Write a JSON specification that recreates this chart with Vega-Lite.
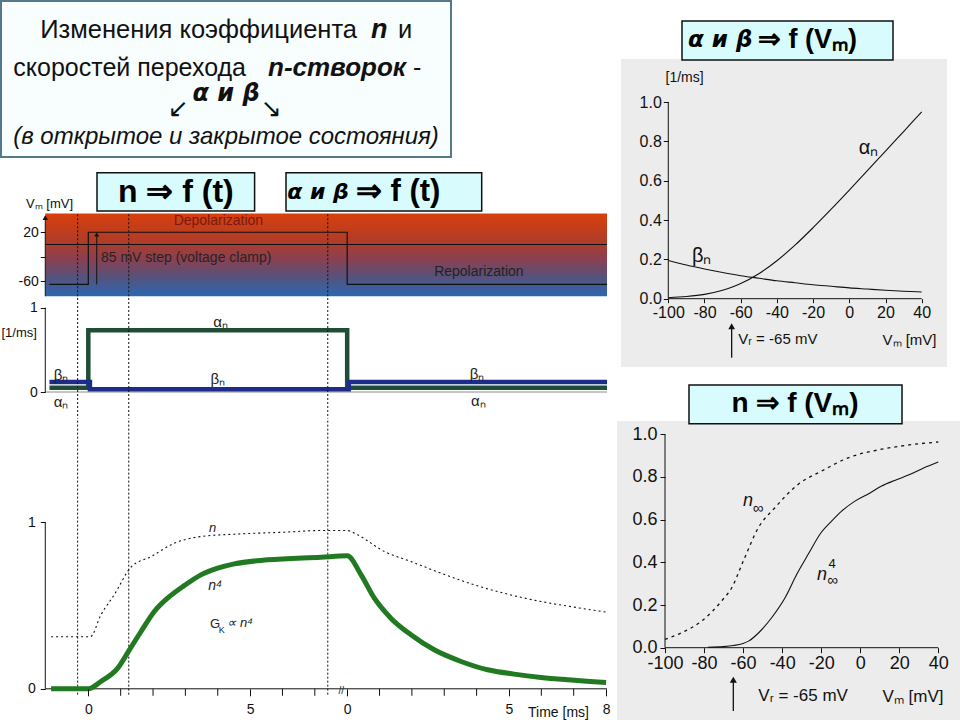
{
  "$schema": "https://vega.github.io/schema/vega-lite/v6.json",
  "background": "white",
  "padding": 0,
  "autosize": {"type": "pad"},
  "spacing": -13,
  "config": {
    "view": {"stroke": null},
    "axis": {"grid": false, "labelOverlap": false, "labelColor": "#111", "tickColor": "#111", "titleColor": "#111", "titleFontWeight": "normal", "labelFont": "Liberation Sans Narrow, Liberation Sans", "titleFont": "Liberation Sans Narrow, Liberation Sans"}
  },
  "datasets": {
    "one": [{}],
    "vlines": [{"t": -0.33}, {"t": 1.25}, {"t": 7.4}],
    "minor_ticks": [{"t": 1}, {"t": 2}, {"t": 3}, {"t": 4}, {"t": 6}, {"t": 7}, {"t": 9}, {"t": 10}, {"t": 11}, {"t": 12}, {"t": 14}, {"t": 15}],
    "vm_step": [
      {"i": 0, "t": -1.2, "vm": -65}, {"i": 1, "t": 0, "vm": -65}, {"i": 2, "t": 0, "vm": 20},
      {"i": 3, "t": 8, "vm": 20}, {"i": 4, "t": 8, "vm": -65}, {"i": 5, "t": 16.03, "vm": -65}
    ],
    "rate_step": [
      {"i": 0, "series": "alpha", "t": -1.2, "rate": 0.051}, {"i": 1, "series": "alpha", "t": 0, "rate": 0.051},
      {"i": 2, "series": "alpha", "t": 0, "rate": 0.732}, {"i": 3, "series": "alpha", "t": 8, "rate": 0.732},
      {"i": 4, "series": "alpha", "t": 8, "rate": 0.051}, {"i": 5, "series": "alpha", "t": 16.03, "rate": 0.051},
      {"i": 0, "series": "beta", "t": -1.2, "rate": 0.119}, {"i": 1, "series": "beta", "t": 0.05, "rate": 0.119},
      {"i": 2, "series": "beta", "t": 0.05, "rate": 0.032}, {"i": 3, "series": "beta", "t": 8.05, "rate": 0.032},
      {"i": 4, "series": "beta", "t": 8.05, "rate": 0.119}, {"i": 5, "series": "beta", "t": 16.03, "rate": 0.119}
    ],
    "n_t": [
      {"t": -1.15, "n": 0.312}, {"t": 0.06, "n": 0.312}, {"t": 0.39, "n": 0.444}, {"t": 0.8, "n": 0.564},
      {"t": 1.32, "n": 0.73}, {"t": 1.94, "n": 0.794}, {"t": 2.66, "n": 0.874}, {"t": 3.48, "n": 0.914},
      {"t": 4.51, "n": 0.928}, {"t": 6.06, "n": 0.94}, {"t": 7.19, "n": 0.95}, {"t": 8.0, "n": 0.95},
      {"t": 8.32, "n": 0.924}, {"t": 9.15, "n": 0.824}, {"t": 9.97, "n": 0.764}, {"t": 10.9, "n": 0.694},
      {"t": 11.93, "n": 0.624}, {"t": 12.96, "n": 0.568}, {"t": 13.99, "n": 0.524}, {"t": 15.02, "n": 0.49},
      {"t": 16.0, "n": 0.46}
    ],
    "n4_t": [
      {"t": -1.15, "n4": 0}, {"t": 0, "n4": 0}, {"t": 0.39, "n4": 0.044}, {"t": 0.91, "n4": 0.124},
      {"t": 1.27, "n4": 0.234}, {"t": 1.63, "n4": 0.344}, {"t": 2.04, "n4": 0.464}, {"t": 2.45, "n4": 0.544},
      {"t": 2.97, "n4": 0.62}, {"t": 3.48, "n4": 0.684}, {"t": 4.0, "n4": 0.724}, {"t": 4.51, "n4": 0.75},
      {"t": 5.54, "n4": 0.774}, {"t": 7.19, "n4": 0.79}, {"t": 8.0, "n4": 0.798}, {"t": 8.43, "n4": 0.684},
      {"t": 8.84, "n4": 0.544}, {"t": 9.35, "n4": 0.424}, {"t": 9.97, "n4": 0.324}, {"t": 10.69, "n4": 0.234},
      {"t": 11.52, "n4": 0.164}, {"t": 12.34, "n4": 0.114}, {"t": 13.16, "n4": 0.088}, {"t": 13.99, "n4": 0.068},
      {"t": 14.81, "n4": 0.054}, {"t": 16.0, "n4": 0.038}
    ],
    "rate_v": [
      {"series": "alpha", "v": -100, "rate": 0.005}, {"series": "alpha", "v": -90, "rate": 0.011},
      {"series": "alpha", "v": -80, "rate": 0.022}, {"series": "alpha", "v": -70, "rate": 0.043},
      {"series": "alpha", "v": -65, "rate": 0.058}, {"series": "alpha", "v": -60, "rate": 0.077},
      {"series": "alpha", "v": -50, "rate": 0.127}, {"series": "alpha", "v": -40, "rate": 0.193},
      {"series": "alpha", "v": -30, "rate": 0.272}, {"series": "alpha", "v": -20, "rate": 0.361},
      {"series": "alpha", "v": -10, "rate": 0.455}, {"series": "alpha", "v": 0, "rate": 0.552},
      {"series": "alpha", "v": 10, "rate": 0.651}, {"series": "alpha", "v": 20, "rate": 0.75},
      {"series": "alpha", "v": 30, "rate": 0.85}, {"series": "alpha", "v": 40, "rate": 0.95},
      {"series": "beta", "v": -100, "rate": 0.194}, {"series": "beta", "v": -90, "rate": 0.171},
      {"series": "beta", "v": -80, "rate": 0.151}, {"series": "beta", "v": -70, "rate": 0.133},
      {"series": "beta", "v": -60, "rate": 0.117}, {"series": "beta", "v": -50, "rate": 0.104},
      {"series": "beta", "v": -40, "rate": 0.091}, {"series": "beta", "v": -30, "rate": 0.081},
      {"series": "beta", "v": -20, "rate": 0.071}, {"series": "beta", "v": -10, "rate": 0.063},
      {"series": "beta", "v": 0, "rate": 0.055}, {"series": "beta", "v": 10, "rate": 0.049},
      {"series": "beta", "v": 20, "rate": 0.043}, {"series": "beta", "v": 30, "rate": 0.038},
      {"series": "beta", "v": 40, "rate": 0.034}
    ],
    "ninf_v": [
      {"v": -100, "n": 0.039}, {"v": -91.5, "n": 0.07}, {"v": -81.2, "n": 0.125}, {"v": -71, "n": 0.219},
      {"v": -65.8, "n": 0.281}, {"v": -59.9, "n": 0.406}, {"v": -52.2, "n": 0.562}, {"v": -43.7, "n": 0.656},
      {"v": -31.7, "n": 0.766}, {"v": -19.7, "n": 0.828}, {"v": -6.1, "n": 0.89}, {"v": 11, "n": 0.93},
      {"v": 25, "n": 0.95}, {"v": 40, "n": 0.964}
    ],
    "ninf4_v": [
      {"v": -78, "n4": 0.002}, {"v": -70, "n4": 0.005}, {"v": -65, "n4": 0.01}, {"v": -60, "n4": 0.02},
      {"v": -57, "n4": 0.032}, {"v": -52, "n4": 0.07}, {"v": -45, "n4": 0.145}, {"v": -38.5, "n4": 0.234},
      {"v": -32.5, "n4": 0.344}, {"v": -26.5, "n4": 0.44}, {"v": -20, "n4": 0.54}, {"v": -15, "n4": 0.59},
      {"v": -9.5, "n4": 0.64}, {"v": -2.7, "n4": 0.687}, {"v": 5, "n4": 0.725}, {"v": 11, "n4": 0.758},
      {"v": 18, "n4": 0.785}, {"v": 25, "n4": 0.81}, {"v": 32, "n4": 0.84}, {"v": 40, "n4": 0.87}
    ]
  },
  "hconcat": [
    {
      "spacing": 0,
      "vconcat": [
        {
          "spacing": 15.7,
          "bounds": "flush",
          "vconcat": [
            {
              "width": 450, "height": 156,
              "view": {"fill": "#f8fdfe", "stroke": "#55798a", "strokeWidth": 2},
              "data": {"name": "one"},
              "layer": [
                {"mark": {"type": "text", "text": "Изменения коэффициента", "align": "right", "baseline": "alphabetic", "dx": 131, "dy": -41.3, "fontSize": 25.5, "font": "Liberation Sans", "color": "#111"}, "encoding": {}},
                {"mark": {"type": "text", "text": "n", "align": "left", "baseline": "alphabetic", "dx": 145, "dy": -41.3, "fontSize": 27, "font": "Liberation Sans", "fontWeight": "bold", "fontStyle": "italic", "color": "#111"}, "encoding": {}},
                {"mark": {"type": "text", "text": "и", "align": "left", "baseline": "alphabetic", "dx": 172, "dy": -41.3, "fontSize": 25.5, "font": "Liberation Sans", "color": "#111"}, "encoding": {}},
                {"mark": {"type": "text", "text": "скоростей перехода", "align": "right", "baseline": "alphabetic", "dx": 20, "dy": -3, "fontSize": 25, "font": "Liberation Sans", "color": "#111"}, "encoding": {}},
                {"mark": {"type": "text", "text": "n-створок", "align": "left", "baseline": "alphabetic", "dx": 42, "dy": -3, "fontSize": 26, "font": "Liberation Sans", "fontWeight": "bold", "fontStyle": "italic", "color": "#111"}, "encoding": {}},
                {"mark": {"type": "text", "text": "-", "align": "left", "baseline": "alphabetic", "dx": 187, "dy": -3, "fontSize": 25, "font": "Liberation Sans", "color": "#111"}, "encoding": {}},
                {"mark": {"type": "text", "text": "α и β", "align": "center", "baseline": "alphabetic", "dy": 22, "fontSize": 24, "font": "DejaVu Sans", "fontWeight": "bold", "fontStyle": "italic", "color": "#111"}, "encoding": {}},
                {"mark": {"type": "text", "text": "↙", "align": "center", "baseline": "middle", "dx": -48, "dy": 30, "fontSize": 25, "font": "DejaVu Sans", "color": "#111"}, "encoding": {}},
                {"mark": {"type": "text", "text": "↘", "align": "center", "baseline": "middle", "dx": 45, "dy": 30, "fontSize": 25, "font": "DejaVu Sans", "color": "#111"}, "encoding": {}},
                {"mark": {"type": "text", "text": "(в открытое и закрытое состояния)", "align": "center", "baseline": "alphabetic", "dy": 65, "fontSize": 24, "font": "Liberation Sans", "fontStyle": "italic", "color": "#111"}, "encoding": {}}
              ]
            },
            {
              "spacing": 31,
              "bounds": "flush",
              "hconcat": [
                {
                  "width": 64.7, "height": 38.3,
                  "data": {"name": "one"},
                  "mark": {"type": "text", "text": "Vₘ [mV]", "align": "left", "baseline": "alphabetic", "dx": -7.35, "dy": 16, "fontSize": 13, "font": "Liberation Sans Narrow, Liberation Sans", "color": "#111"},
                  "encoding": {}
                },
                {
                  "width": 157.6, "height": 38.3,
                  "view": {"fill": "#d8fcfd", "stroke": "#111", "strokeWidth": 1.5},
                  "data": {"name": "one"},
                  "mark": {"type": "text", "text": "n ⇒ f (t)", "align": "center", "baseline": "middle", "fontSize": 32, "font": "Liberation Sans", "fontWeight": "bold", "color": "#000"},
                  "encoding": {}
                },
                {
                  "width": 195.7, "height": 38.3,
                  "view": {"fill": "#d8fcfd", "stroke": "#111", "strokeWidth": 1.5},
                  "data": {"name": "one"},
                  "layer": [
                    {"mark": {"type": "text", "text": "α и β", "align": "right", "baseline": "middle", "dx": -35, "fontSize": 22, "font": "DejaVu Sans", "fontWeight": "bold", "fontStyle": "italic", "color": "#000"}, "encoding": {}},
                    {"mark": {"type": "text", "text": "⇒ f (t)", "align": "left", "baseline": "middle", "dx": -28, "fontSize": 31, "font": "Liberation Sans", "fontWeight": "bold", "color": "#000"}, "encoding": {}}
                  ]
                }
              ]
            }
          ]
        },
        {
          "width": 607, "height": 84.25,
          "layer": [
            {
              "data": {"name": "one"},
              "mark": {"type": "rect", "color": {"gradient": "linear", "x1": 0, "y1": 0, "x2": 0, "y2": 1, "stops": [{"offset": 0, "color": "#d8400c"}, {"offset": 0.33, "color": "#b03c28"}, {"offset": 0.55, "color": "#8a4050"}, {"offset": 0.75, "color": "#5a5078"}, {"offset": 1, "color": "#2a68b0"}]}},
              "encoding": {
                "x": {"datum": -1.33, "type": "quantitative", "scale": {"domain": [-2.698, 16.06], "nice": false, "zero": false}, "axis": null},
                "x2": {"datum": 16.03},
                "y": {"datum": -84.5, "type": "quantitative", "scale": {"domain": [-84.5, 53.06], "nice": false, "zero": false},
                  "axis": {"orient": "left", "offset": -44.3, "values": [20, 0, -20, -40, -60], "labelOverlap": false, "labelExpr": "datum.value == 20 ? '20' : (datum.value == -60 ? '-60' : '')", "tickSize": 5, "labelFontSize": 14, "labelPadding": 2, "domain": false, "title": null, "zindex": 1}},
                "y2": {"datum": 50.5}
              }
            },
            {"data": {"name": "one"}, "mark": {"type": "rule", "color": "#111", "strokeWidth": 1},
             "encoding": {"x": {"datum": -1.33, "axis": null}, "y": {"datum": -84.5}, "y2": {"datum": 44}}},
            {"data": {"name": "one"}, "mark": {"type": "point", "shape": "triangle-up", "filled": true, "size": 30, "color": "#111", "opacity": 1},
             "encoding": {"x": {"datum": -1.33, "axis": null}, "y": {"datum": 44}}},
            {"data": {"name": "one"}, "mark": {"type": "rule", "color": "#111", "strokeWidth": 1},
             "encoding": {"x": {"datum": -1.33, "axis": null}, "x2": {"datum": 16.03}, "y": {"datum": 0}}},
            {"data": {"name": "vm_step"}, "mark": {"type": "line", "color": "#111", "strokeWidth": 1.2},
             "encoding": {"x": {"field": "t", "type": "quantitative", "axis": null}, "y": {"field": "vm", "type": "quantitative"}, "order": {"field": "i"}}},
            {"data": {"name": "one"}, "mark": {"type": "rule", "color": "#111", "strokeWidth": 1},
             "encoding": {"x": {"datum": 0.26, "axis": null}, "y": {"datum": -65}, "y2": {"datum": 15}}},
            {"data": {"name": "one"}, "mark": {"type": "point", "shape": "triangle-up", "filled": true, "size": 25, "color": "#111", "opacity": 1},
             "encoding": {"x": {"datum": 0.26, "axis": null}, "y": {"datum": 16.5}}},
            {"data": {"name": "vlines"}, "mark": {"type": "rule", "color": "#111", "strokeWidth": 1, "strokeDash": [2, 2]},
             "encoding": {"x": {"field": "t", "type": "quantitative", "axis": null}, "y": {"datum": -84.5}, "y2": {"datum": 50.5}}},
            {"data": {"name": "one"}, "mark": {"type": "text", "text": "Depolarization", "align": "center", "baseline": "middle", "fontSize": 14, "font": "Liberation Sans Narrow, Liberation Sans", "color": "#7a1a10"},
             "encoding": {"x": {"datum": 4.02, "axis": null}, "y": {"datum": 38}}},
            {"data": {"name": "one"}, "mark": {"type": "text", "text": "85 mV step (voltage clamp)", "align": "left", "baseline": "middle", "fontSize": 14, "font": "Liberation Sans Narrow, Liberation Sans", "color": "#2a2222"},
             "encoding": {"x": {"datum": 0.39, "axis": null}, "y": {"datum": -22}}},
            {"data": {"name": "one"}, "mark": {"type": "text", "text": "Repolarization", "align": "center", "baseline": "middle", "fontSize": 14, "font": "Liberation Sans Narrow, Liberation Sans", "color": "#222"},
             "encoding": {"x": {"datum": 12.07, "axis": null}, "y": {"datum": -45.3}}}
          ]
        },
        {
          "width": 607, "height": 118,
          "layer": [
            {
              "data": {"name": "one"},
              "mark": {"type": "rule", "color": "#8a8a8a", "strokeWidth": 1},
              "encoding": {
                "x": {"datum": -1.33, "type": "quantitative", "scale": {"domain": [-2.698, 16.06], "nice": false, "zero": false}, "axis": null},
                "x2": {"datum": 16.03},
                "y": {"datum": 0, "type": "quantitative", "scale": {"domain": [-0.2847, 1.1151], "nice": false, "zero": false},
                  "axis": {"orient": "left", "offset": -44.3, "values": [0, 1], "format": "d", "tickSize": 5, "labelFontSize": 14, "labelPadding": 3, "domain": false, "title": "[1/ms]", "titleAngle": 0, "titleAlign": "left", "titleBaseline": "middle", "titleX": -44.3, "titleY": 34.7, "titleFontSize": 13, "zindex": 1}}
              }
            },
            {"data": {"name": "one"}, "mark": {"type": "rule", "color": "#111", "strokeWidth": 1},
             "encoding": {"x": {"datum": -1.33, "axis": null}, "y": {"datum": 0}, "y2": {"datum": 1}}},
            {"data": {"name": "rate_step"}, "mark": {"type": "line", "strokeWidth": 4.5, "strokeJoin": "miter"},
             "encoding": {"x": {"field": "t", "type": "quantitative", "axis": null}, "y": {"field": "rate", "type": "quantitative"}, "order": {"field": "i"},
               "color": {"field": "series", "type": "nominal", "scale": {"domain": ["alpha", "beta"], "range": ["#1f4d36", "#1d2b8a"]}, "legend": null}}},
            {"data": {"name": "vlines"}, "mark": {"type": "rule", "color": "#111", "strokeWidth": 1, "strokeDash": [2, 2]},
             "encoding": {"x": {"field": "t", "type": "quantitative", "axis": null}}},
            {"data": {"name": "one"}, "mark": {"type": "text", "text": "βₙ", "align": "center", "baseline": "middle", "fontSize": 15, "font": "Liberation Sans", "color": "#222"},
             "encoding": {"x": {"datum": -0.84, "axis": null}, "y": {"datum": 0.2}}},
            {"data": {"name": "one"}, "mark": {"type": "text", "text": "αₙ", "align": "center", "baseline": "middle", "fontSize": 15, "font": "Liberation Sans", "color": "#222"},
             "encoding": {"x": {"datum": -0.84, "axis": null}, "y": {"datum": -0.1186}}},
            {"data": {"name": "one"}, "mark": {"type": "text", "text": "αₙ", "align": "center", "baseline": "middle", "fontSize": 15, "font": "Liberation Sans", "color": "#222"},
             "encoding": {"x": {"datum": 4.09, "axis": null}, "y": {"datum": 0.83}}},
            {"data": {"name": "one"}, "mark": {"type": "text", "text": "βₙ", "align": "center", "baseline": "middle", "fontSize": 15, "font": "Liberation Sans", "color": "#222"},
             "encoding": {"x": {"datum": 4.0, "axis": null}, "y": {"datum": 0.154}}},
            {"data": {"name": "one"}, "mark": {"type": "text", "text": "βₙ", "align": "center", "baseline": "middle", "fontSize": 15, "font": "Liberation Sans", "color": "#222"},
             "encoding": {"x": {"datum": 12.01, "axis": null}, "y": {"datum": 0.21}}},
            {"data": {"name": "one"}, "mark": {"type": "text", "text": "αₙ", "align": "center", "baseline": "middle", "fontSize": 15, "font": "Liberation Sans", "color": "#222"},
             "encoding": {"x": {"datum": 12.05, "axis": null}, "y": {"datum": -0.107}}}
          ]
        },
        {
          "width": 607, "height": 303.5,
          "layer": [
            {
              "data": {"name": "one"},
              "mark": {"type": "rule", "color": "#111", "strokeWidth": 1},
              "encoding": {
                "x": {"datum": -1.33, "type": "quantitative", "scale": {"domain": [-2.698, 16.06], "nice": false, "zero": false},
                  "axis": {"orient": "bottom", "offset": -32.7, "values": [0, 5, 8, 13, 16], "labelOverlap": false, "labelBound": false, "labelExpr": "datum.value == 0 || datum.value == 8 ? '0' : (datum.value == 5 || datum.value == 13 ? '5' : '8')", "tickSize": 7, "labelFontSize": 14, "labelPadding": 7, "domain": false, "title": "Time [ms]", "titleX": 557, "titleY": 24, "titleAlign": "center", "titleBaseline": "middle", "titleFontSize": 14, "zindex": 1}},
                "x2": {"datum": 16.03},
                "y": {"datum": 0, "type": "quantitative", "scale": {"domain": [-0.1963, 1.6255], "nice": false, "zero": false},
                  "axis": {"orient": "left", "offset": -44.3, "values": [0, 1], "format": "d", "tickSize": 5, "labelFontSize": 14, "labelPadding": 5, "domain": false, "title": null, "zindex": 1}}
              }
            },
            {"data": {"name": "minor_ticks"}, "mark": {"type": "rule", "color": "#111", "strokeWidth": 1},
             "encoding": {"x": {"field": "t", "type": "quantitative"}, "y": {"datum": 0}, "y2": {"datum": -0.042}}},
            {"data": {"name": "one"}, "mark": {"type": "rule", "color": "#111", "strokeWidth": 1},
             "encoding": {"x": {"datum": -1.33}, "y": {"datum": 0}, "y2": {"datum": 1}}},
            {"data": {"name": "vlines"}, "mark": {"type": "rule", "color": "#111", "strokeWidth": 1, "strokeDash": [2, 2]},
             "encoding": {"x": {"field": "t", "type": "quantitative"}, "y": {"datum": -0.035}, "y2": {"datum": 1.6255}}},
            {"data": {"name": "n_t"}, "mark": {"type": "line", "color": "#111", "strokeWidth": 1.1, "strokeDash": [2, 3], "interpolate": "monotone"},
             "encoding": {"x": {"field": "t", "type": "quantitative"}, "y": {"field": "n", "type": "quantitative"}}},
            {"data": {"name": "n4_t"}, "mark": {"type": "line", "color": "#217a21", "strokeWidth": 5, "interpolate": "monotone"},
             "encoding": {"x": {"field": "t", "type": "quantitative"}, "y": {"field": "n4", "type": "quantitative"}}},
            {"data": {"name": "one"}, "mark": {"type": "text", "text": "//", "align": "center", "baseline": "middle", "fontSize": 10, "font": "Liberation Sans", "color": "#222"},
             "encoding": {"x": {"datum": 7.82}, "y": {"datum": -0.015}}},
            {"data": {"name": "one"}, "mark": {"type": "text", "text": "n", "align": "center", "baseline": "middle", "fontSize": 13, "font": "Liberation Sans", "fontStyle": "italic", "color": "#222"},
             "encoding": {"x": {"datum": 3.84}, "y": {"datum": 0.968}}},
            {"data": {"name": "one"}, "mark": {"type": "text", "text": "n⁴", "align": "center", "baseline": "middle", "fontSize": 14, "font": "Liberation Sans", "fontStyle": "italic", "color": "#222"},
             "encoding": {"x": {"datum": 3.92}, "y": {"datum": 0.62}}},
            {"data": {"name": "one"}, "mark": {"type": "text", "text": "G", "align": "left", "baseline": "middle", "fontSize": 13, "font": "Liberation Sans", "color": "#222"},
             "encoding": {"x": {"datum": 3.76}, "y": {"datum": 0.389}}},
            {"data": {"name": "one"}, "mark": {"type": "text", "text": "K", "align": "left", "baseline": "middle", "fontSize": 9, "font": "Liberation Sans", "color": "#222"},
             "encoding": {"x": {"datum": 4.03}, "y": {"datum": 0.35}}},
            {"data": {"name": "one"}, "mark": {"type": "text", "text": "∝ n⁴", "align": "left", "baseline": "middle", "fontSize": 13, "font": "Liberation Sans", "fontStyle": "italic", "color": "#222"},
             "encoding": {"x": {"datum": 4.3}, "y": {"datum": 0.395}}}
          ]
        }
      ]
    },
    {
      "spacing": 0,
      "bounds": "flush",
      "vconcat": [
        {
          "width": 348, "height": 383,
          "layer": [
            {
              "data": {"name": "one"},
              "mark": {"type": "rect", "color": "#ececec"},
              "encoding": {
                "x": {"datum": -126.13, "type": "quantitative", "scale": {"domain": [-128.34, 63.92], "nice": false, "zero": false},
                  "axis": {"orient": "bottom", "offset": -85.3, "values": [-100, -80, -60, -40, -20, 0, 20, 40], "labelExpr": "replace(datum.label, '−', '-')", "tickSize": 4, "labelFontSize": 16, "labelPadding": 2, "labelFont": "Liberation Sans", "domain": false, "title": "Vₘ [mV]", "titleFont": "Liberation Sans", "titleX": 265, "titleY": 40.3, "titleAlign": "left", "titleBaseline": "middle", "titleFontSize": 15, "zindex": 1}},
                "x2": {"datum": 53.98},
                "y": {"datum": -0.3472, "type": "quantitative", "scale": {"domain": [-0.4337, 1.5135], "nice": false, "zero": false},
                  "axis": {"orient": "left", "offset": -51.3, "values": [0, 0.2, 0.4, 0.6, 0.8, 1], "format": ".1f", "tickSize": 5, "labelFontSize": 16, "labelPadding": 2, "labelFont": "Liberation Sans", "domain": false, "title": "[1/ms]", "titleFont": "Liberation Sans", "titleAngle": 0, "titleAlign": "left", "titleBaseline": "middle", "titleX": -3.3, "titleY": 76.7, "titleFontSize": 14, "zindex": 1}},
                "y2": {"datum": 1.2186}
              }
            },
            {"data": {"name": "one"}, "mark": {"type": "rect", "color": "#d8fcfd", "stroke": "#111", "strokeWidth": 1.5},
             "encoding": {"x": {"datum": -92.43}, "x2": {"datum": 24.14}, "y": {"datum": 1.2135}, "y2": {"datum": 1.4118}}},
            {"data": {"name": "one"}, "mark": {"type": "text", "text": "α и β", "align": "left", "baseline": "middle", "fontSize": 23, "font": "DejaVu Sans", "fontWeight": "bold", "fontStyle": "italic", "color": "#000"},
             "encoding": {"x": {"datum": -89.12}, "y": {"datum": 1.3127}}},
            {"data": {"name": "one"}, "mark": {"type": "text", "text": "⇒ f (Vₘ)", "align": "left", "baseline": "middle", "fontSize": 27, "font": "Liberation Sans", "fontWeight": "bold", "color": "#000"},
             "encoding": {"x": {"datum": -50.5}, "y": {"datum": 1.3127}}},
            {"data": {"name": "one"}, "mark": {"type": "rule", "color": "#111", "strokeWidth": 1},
             "encoding": {"x": {"datum": -100}, "x2": {"datum": 40}, "y": {"datum": 0}}},
            {"data": {"name": "one"}, "mark": {"type": "rule", "color": "#111", "strokeWidth": 1},
             "encoding": {"x": {"datum": -100}, "y": {"datum": 0}, "y2": {"datum": 1}}},
            {"data": {"name": "rate_v"}, "mark": {"type": "line", "color": "#111", "strokeWidth": 1.1, "interpolate": "monotone"},
             "encoding": {"x": {"field": "v", "type": "quantitative"}, "y": {"field": "rate", "type": "quantitative"}, "detail": {"field": "series"}}},
            {"data": {"name": "one"}, "mark": {"type": "text", "text": "αₙ", "align": "center", "baseline": "middle", "fontSize": 20, "font": "Liberation Sans", "color": "#111"},
             "encoding": {"x": {"datum": 10.6}, "y": {"datum": 0.768}}},
            {"data": {"name": "one"}, "mark": {"type": "text", "text": "βₙ", "align": "center", "baseline": "middle", "fontSize": 20, "font": "Liberation Sans", "color": "#111"},
             "encoding": {"x": {"datum": -81.55}, "y": {"datum": 0.217}}},
            {"data": {"name": "one"}, "mark": {"type": "rule", "color": "#111", "strokeWidth": 1.3},
             "encoding": {"x": {"datum": -65}, "y": {"datum": -0.3}, "y2": {"datum": -0.15}}},
            {"data": {"name": "one"}, "mark": {"type": "point", "shape": "triangle-up", "filled": true, "size": 45, "color": "#111", "opacity": 1},
             "encoding": {"x": {"datum": -65}, "y": {"datum": -0.14}}},
            {"data": {"name": "one"}, "mark": {"type": "text", "text": "Vᵣ = -65  mV", "align": "left", "baseline": "middle", "fontSize": 15, "font": "Liberation Sans", "color": "#111"},
             "encoding": {"x": {"datum": -61.3}, "y": {"datum": -0.2049}}}
          ]
        },
        {
          "width": 348, "height": 337,
          "layer": [
            {
              "data": {"name": "one"},
              "mark": {"type": "rect", "color": "#ececec"},
              "encoding": {
                "x": {"datum": -124.59, "type": "quantitative", "scale": {"domain": [-124.59, 53.68], "nice": false, "zero": false},
                  "axis": {"orient": "bottom", "offset": -73.3, "values": [-100, -80, -60, -40, -20, 0, 20, 40], "labelExpr": "replace(datum.label, '−', '-')", "tickSize": 5, "labelFontSize": 18, "labelPadding": 2, "labelFont": "Liberation Sans", "domain": false, "title": "Vₘ [mV]", "titleFont": "Liberation Sans", "titleX": 265, "titleY": 48.3, "titleAlign": "left", "titleBaseline": "middle", "titleFontSize": 17, "zindex": 1}},
                "x2": {"datum": 53.68},
                "y": {"datum": -0.3435, "type": "quantitative", "scale": {"domain": [-0.3435, 1.2357], "nice": false, "zero": false},
                  "axis": {"orient": "left", "offset": -48, "values": [0, 0.2, 0.4, 0.6, 0.8, 1], "format": ".1f", "tickSize": 5, "labelFontSize": 18, "labelPadding": 3, "labelFont": "Liberation Sans", "domain": false, "title": null, "zindex": 1}},
                "y2": {"datum": 1.0623}
              }
            },
            {"data": {"name": "one"}, "mark": {"type": "rect", "color": "#d8fcfd", "stroke": "#111", "strokeWidth": 1.5},
             "encoding": {"x": {"datum": -87.71}, "x2": {"datum": 21.41}, "y": {"datum": 1.0497}, "y2": {"datum": 1.231}}},
            {"data": {"name": "one"}, "mark": {"type": "text", "text": "n ⇒ f (Vₘ)", "align": "center", "baseline": "middle", "fontSize": 28, "font": "Liberation Sans", "fontWeight": "bold", "color": "#000"},
             "encoding": {"x": {"datum": -33.4}, "y": {"datum": 1.142}}},
            {"data": {"name": "one"}, "mark": {"type": "rule", "color": "#111", "strokeWidth": 1},
             "encoding": {"x": {"datum": -100}, "x2": {"datum": 40}, "y": {"datum": 0}}},
            {"data": {"name": "one"}, "mark": {"type": "rule", "color": "#111", "strokeWidth": 1},
             "encoding": {"x": {"datum": -100}, "y": {"datum": 0}, "y2": {"datum": 1}}},
            {"data": {"name": "ninf_v"}, "mark": {"type": "line", "color": "#111", "strokeWidth": 1.3, "strokeDash": [3, 4], "interpolate": "monotone"},
             "encoding": {"x": {"field": "v", "type": "quantitative"}, "y": {"field": "n", "type": "quantitative"}}},
            {"data": {"name": "ninf4_v"}, "mark": {"type": "line", "color": "#111", "strokeWidth": 1.1, "interpolate": "monotone"},
             "encoding": {"x": {"field": "v", "type": "quantitative"}, "y": {"field": "n4", "type": "quantitative"}}},
            {"data": {"name": "one"}, "mark": {"type": "text", "text": "n", "align": "center", "baseline": "middle", "fontSize": 18, "font": "Liberation Sans", "fontStyle": "italic", "color": "#111"},
             "encoding": {"x": {"datum": -57.5}, "y": {"datum": 0.687}}},
            {"data": {"name": "one"}, "mark": {"type": "text", "text": "∞", "align": "center", "baseline": "middle", "fontSize": 15, "font": "Liberation Sans", "color": "#111"},
             "encoding": {"x": {"datum": -52.3}, "y": {"datum": 0.655}}},
            {"data": {"name": "one"}, "mark": {"type": "text", "text": "n", "align": "center", "baseline": "middle", "fontSize": 18, "font": "Liberation Sans", "fontStyle": "italic", "color": "#111"},
             "encoding": {"x": {"datum": -19.6}, "y": {"datum": 0.3407}}},
            {"data": {"name": "one"}, "mark": {"type": "text", "text": "4", "align": "center", "baseline": "middle", "fontSize": 13, "font": "Liberation Sans", "color": "#111"},
             "encoding": {"x": {"datum": -14.45}, "y": {"datum": 0.392}}},
            {"data": {"name": "one"}, "mark": {"type": "text", "text": "∞", "align": "center", "baseline": "middle", "fontSize": 15, "font": "Liberation Sans", "color": "#111"},
             "encoding": {"x": {"datum": -14.2}, "y": {"datum": 0.315}}},
            {"data": {"name": "one"}, "mark": {"type": "rule", "color": "#111", "strokeWidth": 1.3},
             "encoding": {"x": {"datum": -65}, "y": {"datum": -0.2966}, "y2": {"datum": -0.16}}},
            {"data": {"name": "one"}, "mark": {"type": "point", "shape": "triangle-up", "filled": true, "size": 50, "color": "#111", "opacity": 1},
             "encoding": {"x": {"datum": -65}, "y": {"datum": -0.15}}},
            {"data": {"name": "one"}, "mark": {"type": "text", "text": "Vᵣ = -65  mV", "align": "left", "baseline": "middle", "fontSize": 17, "font": "Liberation Sans", "color": "#111"},
             "encoding": {"x": {"datum": -52.2}, "y": {"datum": -0.2263}}}
          ]
        }
      ]
    }
  ]
}
